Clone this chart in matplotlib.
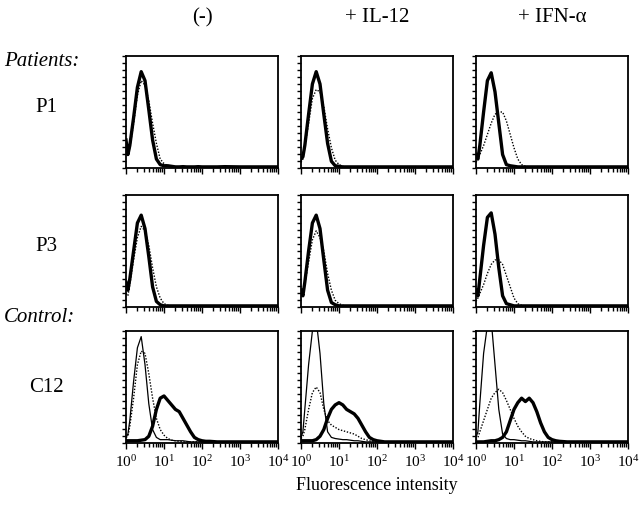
import numpy as np
import matplotlib
matplotlib.use('Agg')
import matplotlib.pyplot as plt
from matplotlib.ticker import LogLocator, NullFormatter, FixedLocator

plt.rcParams['font.family'] = ['Liberation Serif', 'DejaVu Serif']
plt.rcParams['mathtext.fontset'] = 'stix'

# channel positions in decades (x axis = 10**grid)
grid = [0, 0.05, 0.1, 0.2, 0.3, 0.4, 0.5, 0.6, 0.7, 0.8, 0.9, 1.0, 1.1, 1.2, 1.3,
        1.4, 1.5, 1.6, 1.7, 1.8, 1.9, 2.0, 2.1, 2.2, 2.4, 2.6, 3.0, 3.5, 4.0]

col_titles = ['(-)', '+ IL-12', '+ IFN-\u03b1']
row_labels = ['P1', 'P3', 'C12']

# relative cell counts (fraction of axis height)
p1_neg_thick = [0.25, 0.12, 0.2, 0.45, 0.72, 0.86, 0.78, 0.52, 0.25, 0.08, 0.03, 0.02, 0.02, 0.015, 0.01,
                0.01, 0.012, 0.01, 0.01, 0.01, 0.012, 0.01, 0.01, 0.01, 0.01, 0.012, 0.01, 0.01, 0.01]
p1_neg_dot = [0.15, 0.12, 0.18, 0.4, 0.65, 0.78, 0.74, 0.6, 0.4, 0.22, 0.08, 0.04, 0.02, 0.015, 0.01,
              0.01, 0.01, 0.01, 0.01, 0.01, 0.01, 0.01, 0.01, 0.01, 0.01, 0.01, 0.01, 0.01, 0.01]
p1_il12_thick = [0.08, 0.1, 0.2, 0.48, 0.75, 0.86, 0.75, 0.48, 0.22, 0.06, 0.02, 0.015, 0.01, 0.01, 0.01,
                 0.01, 0.01, 0.01, 0.01, 0.01, 0.01, 0.01, 0.01, 0.01, 0.01, 0.01, 0.01, 0.01, 0.01]
p1_il12_dot = [0.05, 0.08, 0.18, 0.4, 0.62, 0.7, 0.68, 0.55, 0.35, 0.18, 0.07, 0.03, 0.015, 0.01, 0.01,
               0.01, 0.01, 0.01, 0.01, 0.01, 0.01, 0.01, 0.01, 0.01, 0.01, 0.01, 0.01, 0.01, 0.01]
p1_ifn_thick = [0.12, 0.08, 0.2, 0.5, 0.78, 0.85, 0.68, 0.4, 0.12, 0.03, 0.02, 0.015, 0.01, 0.01, 0.01,
                0.01, 0.01, 0.01, 0.01, 0.01, 0.01, 0.01, 0.01, 0.01, 0.01, 0.01, 0.01, 0.01, 0.01]
p1_ifn_dot = [0.05, 0.08, 0.12, 0.2, 0.3, 0.4, 0.48, 0.5, 0.5, 0.42, 0.3, 0.18, 0.08, 0.03, 0.015,
              0.01, 0.01, 0.01, 0.01, 0.01, 0.01, 0.01, 0.01, 0.01, 0.01, 0.01, 0.01, 0.01, 0.01]

p3_neg_thick = [0.22, 0.15, 0.25, 0.5, 0.75, 0.82, 0.7, 0.45, 0.18, 0.05, 0.02, 0.01, 0.01, 0.01, 0.01,
                0.01, 0.01, 0.01, 0.01, 0.01, 0.01, 0.01, 0.01, 0.01, 0.01, 0.01, 0.01, 0.01, 0.01]
p3_neg_dot = [0.12, 0.1, 0.2, 0.42, 0.62, 0.72, 0.68, 0.55, 0.35, 0.18, 0.08, 0.03, 0.015, 0.01, 0.01,
              0.01, 0.01, 0.01, 0.01, 0.01, 0.01, 0.01, 0.01, 0.01, 0.01, 0.01, 0.01, 0.01, 0.01]
p3_il12_thick = [0.15, 0.1, 0.22, 0.5, 0.75, 0.82, 0.7, 0.42, 0.15, 0.04, 0.02, 0.01, 0.01, 0.01, 0.01,
                 0.01, 0.01, 0.01, 0.01, 0.01, 0.01, 0.01, 0.01, 0.01, 0.01, 0.01, 0.01, 0.01, 0.01]
p3_il12_dot = [0.1, 0.1, 0.2, 0.4, 0.6, 0.68, 0.62, 0.5, 0.3, 0.15, 0.06, 0.03, 0.015, 0.01, 0.01,
               0.01, 0.01, 0.01, 0.01, 0.01, 0.01, 0.01, 0.01, 0.01, 0.01, 0.01, 0.01, 0.01, 0.01]
p3_ifn_thick = [0.15, 0.1, 0.25, 0.55, 0.8, 0.84, 0.65, 0.35, 0.1, 0.03, 0.02, 0.01, 0.01, 0.01, 0.01,
                0.01, 0.01, 0.01, 0.01, 0.01, 0.01, 0.01, 0.01, 0.01, 0.01, 0.01, 0.01, 0.01, 0.01]
p3_ifn_dot = [0.05, 0.08, 0.12, 0.2, 0.3, 0.38, 0.42, 0.42, 0.38, 0.28, 0.18, 0.08, 0.03, 0.015, 0.01,
              0.01, 0.01, 0.01, 0.01, 0.01, 0.01, 0.01, 0.01, 0.01, 0.01, 0.01, 0.01, 0.01, 0.01]

c12_neg_thin = [0.05, 0.08, 0.2, 0.55, 0.85, 0.95, 0.7, 0.35, 0.12, 0.05, 0.03, 0.03, 0.03, 0.025, 0.02,
                0.02, 0.02, 0.015, 0.01, 0.01, 0.01, 0.01, 0.01, 0.01, 0.01, 0.01, 0.01, 0.01, 0.01]
c12_neg_dot = [0.05, 0.06, 0.15, 0.4, 0.7, 0.82, 0.8, 0.62, 0.4, 0.22, 0.12, 0.07, 0.04, 0.025, 0.02,
               0.015, 0.01, 0.01, 0.01, 0.01, 0.01, 0.01, 0.01, 0.01, 0.01, 0.01, 0.01, 0.01, 0.01]
c12_neg_thick = [0.02, 0.02, 0.02, 0.02, 0.02, 0.025, 0.03, 0.06, 0.15, 0.3, 0.4, 0.42, 0.38, 0.34, 0.3,
                 0.28, 0.22, 0.16, 0.1, 0.05, 0.03, 0.02, 0.015, 0.015, 0.01, 0.01, 0.01, 0.01, 0.01]
c12_il12_thin = [0.05, 0.1, 0.3, 0.7, 1.0, 1.1, 0.8, 0.35, 0.1, 0.05, 0.04, 0.035, 0.03, 0.03, 0.025,
                 0.02, 0.02, 0.015, 0.01, 0.01, 0.01, 0.01, 0.01, 0.01, 0.01, 0.01, 0.01, 0.01, 0.01]
c12_il12_dot = [0.04, 0.06, 0.12, 0.3, 0.45, 0.5, 0.45, 0.3, 0.2, 0.16, 0.14, 0.12, 0.11, 0.1, 0.09,
                0.08, 0.06, 0.04, 0.03, 0.02, 0.01, 0.01, 0.01, 0.01, 0.01, 0.01, 0.01, 0.01, 0.01]
c12_il12_thick = [0.02, 0.02, 0.02, 0.02, 0.02, 0.03, 0.06, 0.12, 0.22, 0.3, 0.34, 0.36, 0.34, 0.3, 0.28,
                  0.26, 0.22, 0.16, 0.1, 0.05, 0.03, 0.02, 0.015, 0.01, 0.01, 0.01, 0.01, 0.01, 0.01]
c12_ifn_thin = [0.05, 0.1, 0.35, 0.8, 1.05, 1.1, 0.7, 0.3, 0.08, 0.04, 0.03, 0.03, 0.025, 0.02, 0.02,
                0.015, 0.01, 0.01, 0.01, 0.01, 0.01, 0.01, 0.01, 0.01, 0.01, 0.01, 0.01, 0.01, 0.01]
c12_ifn_dot = [0.03, 0.05, 0.1, 0.2, 0.3, 0.4, 0.45, 0.48, 0.45, 0.38, 0.3, 0.22, 0.15, 0.1, 0.06,
               0.04, 0.03, 0.02, 0.015, 0.01, 0.01, 0.01, 0.01, 0.01, 0.01, 0.01, 0.01, 0.01, 0.01]
c12_ifn_thick = [0.01, 0.01, 0.01, 0.01, 0.015, 0.02, 0.02, 0.03, 0.05, 0.1, 0.2, 0.3, 0.36, 0.4, 0.37,
                 0.4, 0.36, 0.28, 0.18, 0.1, 0.05, 0.03, 0.02, 0.015, 0.01, 0.01, 0.01, 0.01, 0.01]

panels = [
    [(p1_neg_thick, p1_neg_dot, None), (p1_il12_thick, p1_il12_dot, None), (p1_ifn_thick, p1_ifn_dot, None)],
    [(p3_neg_thick, p3_neg_dot, None), (p3_il12_thick, p3_il12_dot, None), (p3_ifn_thick, p3_ifn_dot, None)],
    [(c12_neg_thick, c12_neg_dot, c12_neg_thin), (c12_il12_thick, c12_il12_dot, c12_il12_thin),
     (c12_ifn_thick, c12_ifn_dot, c12_ifn_thin)],
]

W, H = 640, 514
fig = plt.figure(figsize=(W / 100, H / 100), dpi=100)

col_left = [126, 301, 476]
row_top = [56, 195, 331]
pw, ph = 152, 112

xs = 10 ** np.array(grid)

for r in range(3):
    for c in range(3):
        ax = fig.add_axes([col_left[c] / W, 1 - (row_top[r] + ph) / H, pw / W, ph / H])
        thick, dot, thin = panels[r][c]
        if thin is not None:
            ax.plot(xs, thin, color='black', lw=0.9)
        ax.plot(xs, dot, color='black', lw=1.0, ls=(0, (1, 1.2)))
        ax.plot(xs, thick, color='black', lw=2.4)
        ax.set_xscale('log')
        ax.set_xlim(1, 1e4)
        ax.set_ylim(0, 1)
        ax.xaxis.set_major_locator(LogLocator(base=10, numticks=10))
        ax.xaxis.set_minor_locator(LogLocator(base=10, subs=np.arange(2, 10), numticks=50))
        ax.xaxis.set_minor_formatter(NullFormatter())
        ax.yaxis.set_major_locator(FixedLocator(np.linspace(0, 1, 17)))
        ax.set_yticklabels([])
        ax.tick_params(axis='y', direction='out', length=3, width=1)
        ax.tick_params(axis='x', which='major', direction='out', length=4, width=1)
        ax.tick_params(axis='x', which='minor', direction='out', length=3, width=1)
        if r < 2:
            ax.set_xticklabels([])
        else:
            ax.set_xticks([1, 10, 100, 1000, 10000])
            ax.set_xticklabels([r'$\mathregular{10^{%d}}$' % i for i in range(5)], fontsize=11)
            ax.tick_params(axis='x', which='major', pad=4)
        for s in ax.spines.values():
            s.set_linewidth(1.3)

for c in range(3):
    fig.text((col_left[c] + pw / 2) / W, 1 - 18 / H, col_titles[c], ha='center', va='center', fontsize=15)

label_y = [108, 246, 388]
for r in range(3):
    fig.text(46 / W, 1 - label_y[r] / H, row_labels[r], ha='center', va='center', fontsize=15)

fig.text(4 / W, 1 - 62 / H, 'Patients:', ha='left', va='center', fontsize=15, style='italic')
fig.text(4 / W, 1 - 318 / H, 'Control:', ha='left', va='center', fontsize=15, style='italic')

fig.text((col_left[1] + pw / 2) / W, 1 - 486 / H, 'Fluorescence intensity', ha='center', va='center', fontsize=13)

fig.savefig('out.png', dpi=100)
